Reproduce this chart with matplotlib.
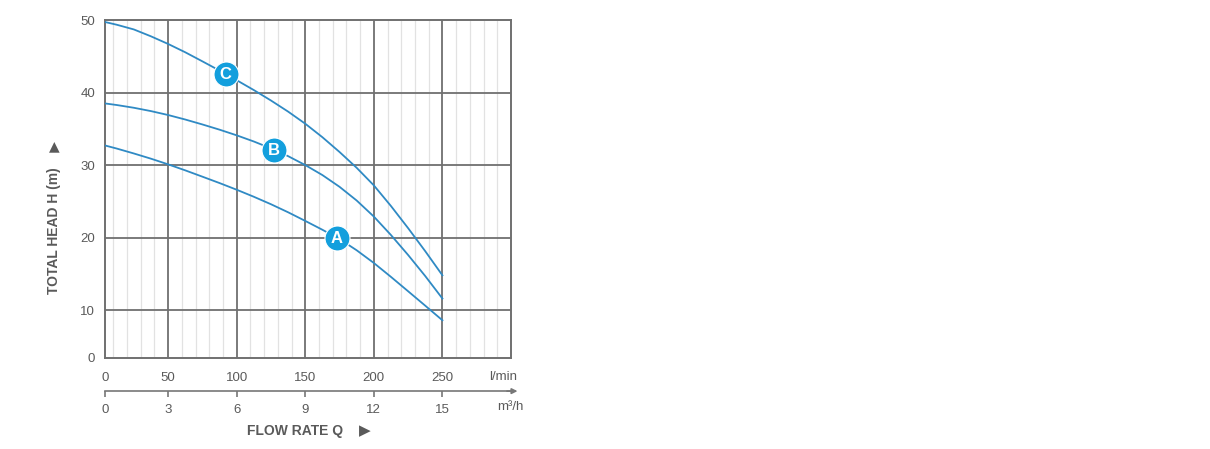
import matplotlib
matplotlib.use("Agg")
import matplotlib.pyplot as plt
import numpy as np

plt.rcParams['font.family'] = ['Liberation Sans', 'DejaVu Sans']

# Datos (caudal l/min, altura m)
caudal = [0, 12.5, 25, 37.5, 50, 62.5, 75, 87.5, 100, 112.5, 125,
          137.5, 150, 162.5, 175, 187.5, 200, 212.5, 225, 237.5, 250]
altura_a = [32.9, 32.28, 31.6, 30.88, 30.1, 29.27, 28.4, 27.52, 26.6, 25.63, 24.6,
            23.49, 22.3, 21.08, 19.8, 18.25, 16.5, 14.58, 12.6, 10.61, 8.6]
altura_b = [38.6, 38.28, 37.9, 37.44, 36.9, 36.28, 35.6, 34.88, 34.1, 33.25, 32.3,
            31.23, 30.0, 28.62, 27.0, 25.11, 22.9, 20.35, 17.6, 14.69, 11.6]
altura_c = [49.9, 49.35, 48.7, 47.75, 46.7, 45.55, 44.3, 43.03, 41.7, 40.34, 38.9,
            37.37, 35.7, 33.84, 31.8, 29.62, 27.2, 24.35, 21.3, 18.12, 14.8]

# Etiquetas de las curvas (letra, caudal donde va el círculo)
etiquetas = [("A", 173), ("B", 127), ("C", 92)]

ticks_lmin = [50, 100, 150, 200, 250]
ticks_m3h = [3, 6, 9, 12, 15]
ticks_h = [10, 20, 30, 40, 50]

azul_linea = '#2f8ac4'
azul_circulo = '#139fdd'
gris_texto = '#5a5a5a'
gris_grid = '#707070'

fig = plt.figure(figsize=(12.10, 4.49), dpi=100)
ax = fig.add_axes([105/1210, 91/449, 406/1210, 338/449])

x0, y0 = 4, 3.4  # el "0" de la gráfica original está pegado al borde
ax.set_xlim(x0, 300)
ax.set_ylim(y0, 50)

# Rejilla menor (cada 10 l/min)
for xv in np.arange(10, 300, 10):
    if xv % 50:
        ax.axvline(xv, color='#e2e2e2', lw=0.9, zorder=0)
for xv in ticks_lmin:
    ax.axvline(xv, color=gris_grid, lw=1.3, zorder=1)
for yv in ticks_h[:-1]:
    ax.axhline(yv, color=gris_grid, lw=1.3, zorder=1)

for s in ax.spines.values():
    s.set_color(gris_grid)
    s.set_linewidth(1.4)

# Curvas
curvas = {"A": altura_a, "B": altura_b, "C": altura_c}
for nombre, h in curvas.items():
    ax.plot(caudal, h, color=azul_linea, lw=1.3, zorder=3)

for letra, q in etiquetas:
    h = np.interp(q, caudal, curvas[letra])
    ax.plot(q, h, 'o', ms=18, color=azul_circulo, mec='white', mew=0.8, zorder=4)
    ax.text(q, h - 0.1, letra, color='white', fontsize=12, fontweight='bold',
            ha='center', va='center', zorder=5)

# Ejes
ax.set_xticks([x0] + ticks_lmin)
ax.set_xticklabels(['0'] + [str(t) for t in ticks_lmin])
ax.set_yticks([y0] + ticks_h)
ax.set_yticklabels(['0'] + [str(t) for t in ticks_h])
ax.tick_params(axis='x', length=0, pad=10, labelsize=9.5, labelcolor=gris_texto)
ax.tick_params(axis='y', length=0, pad=7, labelsize=9.5, labelcolor=gris_texto)

# Segundo eje en m3/h
sec = ax.secondary_xaxis(-0.098, functions=(lambda q: q * 0.06, lambda m: m / 0.06))
sec.set_xticks([x0 * 0.06] + ticks_m3h)
sec.set_xticklabels(['0'] + [str(t) for t in ticks_m3h])
sec.spines['bottom'].set_color('#777777')
sec.spines['bottom'].set_linewidth(1.2)
sec.tick_params(axis='x', direction='out', length=4, width=1.2, color='#777777',
                pad=5, labelsize=9.5, labelcolor=gris_texto)
ax.annotate('', xy=(1.016, -0.098), xytext=(0.99, -0.098), xycoords='axes fraction',
            arrowprops=dict(arrowstyle='-|>', color='#777777', lw=1.2,
                            mutation_scale=8, shrinkA=0, shrinkB=0))

ax.text(0.98, -0.056, 'l/min', transform=ax.transAxes, ha='center', va='center',
        fontsize=9.5, color=gris_texto)
ax.text(0.9975, -0.145, 'm³/h', transform=ax.transAxes, ha='center', va='center',
        fontsize=9.5, color=gris_texto)

# Títulos
fig.text(295/1210, 1 - 431/449, 'FLOW RATE Q', ha='center', va='center',
         fontsize=10, fontweight='bold', color=gris_texto)
fig.text(365/1210, 1 - 431/449, '▶', ha='center', va='center',
         fontsize=11, color=gris_texto, family='DejaVu Sans')
fig.text(54/1210, 1 - 231/449, 'TOTAL HEAD H (m)', ha='center', va='center',
         rotation=90, fontsize=10, fontweight='bold', color=gris_texto)
fig.text(54/1210, 1 - 146/449, '▲', ha='center', va='center',
         fontsize=10, color=gris_texto, family='DejaVu Sans')

fig.savefig('out.png', dpi=100)
